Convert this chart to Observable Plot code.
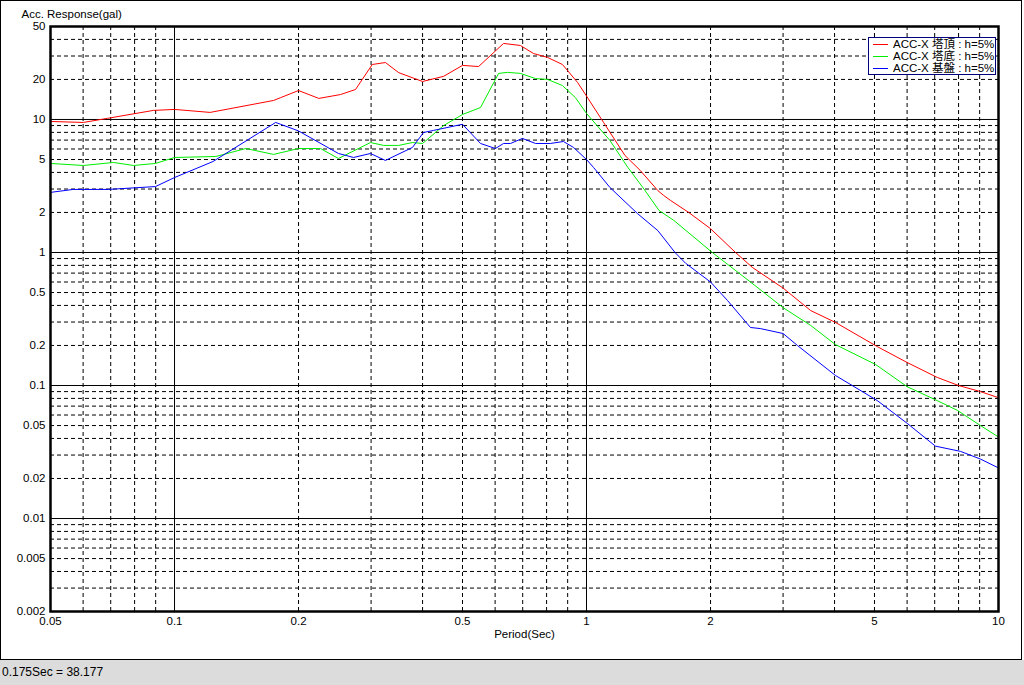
<!DOCTYPE html>
<html>
<head>
<meta charset="utf-8">
<script src="https://cdn.jsdelivr.net/npm/d3@7"></script>
<script src="https://cdn.jsdelivr.net/npm/@observablehq/plot@0.6"></script>
<style>
  html, body { margin: 0; padding: 0; background: #fff; }
  body { width: 1024px; height: 685px; overflow: hidden; font-family: "Liberation Sans", "Noto Sans CJK JP", sans-serif; }
  #wrap { position: relative; width: 1024px; height: 660px; }
  #border { position: absolute; left: 0; top: 0; width: 1020px; height: 658px; border: 1px solid #000; pointer-events: none; }
  #chart { position: absolute; left: 0; top: 0; }
  #legend { position: absolute; left: 868px; top: 37px; width: 126px; height: 36px; border: 1px solid #000080; background: #fff; font-size: 11.5px; line-height: 11px; }
  #legend .row { position: relative; height: 11px; margin-top: 1px; white-space: nowrap; }
  #legend .sw { position: absolute; left: 4px; top: 5px; width: 15px; height: 1px; }
  #legend .lb { position: absolute; left: 24px; top: 0; }
  #status { position: absolute; left: 0; top: 660px; width: 1024px; height: 25px; background: #dcdcdc; font-size: 12px; line-height: 25px; padding-left: 2px; box-sizing: border-box; }
</style>
</head>
<body>
<div id="wrap">
  <div id="chart"></div>
  <div id="legend"></div>
  <div id="border"></div>
</div>
<div id="status"></div>
<script>
// ---- data ----
const seriesNames = ["ACC-X 塔頂 : h=5%", "ACC-X 塔底 : h=5%", "ACC-X 基盤 : h=5%"];

const topPeriod = [0.05, 0.0601, 0.0688, 0.0889, 0.1, 0.122, 0.174, 0.181, 0.2, 0.224, 0.253, 0.275, 0.302, 0.325, 0.35, 0.4, 0.45, 0.5, 0.547, 0.629, 0.691, 0.744, 0.804, 0.874, 0.951, 1.0, 1.10, 1.24, 1.35, 1.49, 1.54, 1.60, 1.77, 2.0, 2.30, 2.53, 3.0, 3.5, 4.02, 5.08, 6.0, 7.1, 8.0, 9.04, 10];
const topAcc = [9.66, 9.5, 10.2, 11.7, 11.9, 11.3, 13.9, 14.6, 16.5, 14.4, 15.4, 16.8, 25.9, 26.8, 22.5, 19.3, 21.1, 25.5, 25.0, 37.3, 36.0, 31.3, 29.3, 25.9, 19.0, 15.0, 9.5, 5.36, 4.14, 2.92, 2.68, 2.46, 2.0, 1.51, 1.0, 0.77, 0.54, 0.366, 0.298, 0.196, 0.149, 0.115, 0.1, 0.09, 0.081];

const basePeriod = [0.05, 0.0601, 0.0711, 0.0795, 0.0899, 0.1, 0.126, 0.149, 0.174, 0.2, 0.226, 0.25, 0.299, 0.322, 0.35, 0.378, 0.4, 0.45, 0.5, 0.553, 0.612, 0.643, 0.691, 0.752, 0.804, 0.874, 0.94, 1.0, 1.14, 1.26, 1.37, 1.50, 1.63, 2.02, 2.5, 3.0, 3.5, 4.02, 5.03, 6.0, 7.1, 7.95, 9.04, 10];
const baseAcc = [4.67, 4.51, 4.75, 4.51, 4.67, 5.18, 5.27, 6.05, 5.46, 6.05, 6.05, 5.09, 6.71, 6.38, 6.38, 6.71, 6.6, 9.0, 10.9, 12.3, 22.2, 22.6, 22.2, 20.3, 20.0, 18.0, 14.6, 11.1, 6.95, 4.36, 3.08, 2.07, 1.74, 1.0, 0.6, 0.385, 0.283, 0.203, 0.144, 0.098, 0.077, 0.065, 0.050, 0.041];

const groundPeriod = [0.05, 0.0568, 0.0691, 0.0899, 0.1, 0.124, 0.176, 0.181, 0.2, 0.25, 0.272, 0.299, 0.325, 0.378, 0.402, 0.425, 0.5, 0.553, 0.601, 0.629, 0.654, 0.699, 0.752, 0.817, 0.879, 0.93, 1.0, 1.04, 1.14, 1.33, 1.49, 1.64, 1.74, 2.0, 2.2, 2.5, 2.64, 3.0, 3.25, 4.02, 5.08, 6.0, 7.03, 8.08, 9.04, 10];
const groundAcc = [2.83, 2.98, 2.98, 3.13, 3.66, 4.83, 9.5, 9.2, 8.2, 5.55, 5.18, 5.55, 4.92, 6.16, 7.98, 8.27, 9.2, 6.6, 6.05, 6.6, 6.6, 7.2, 6.6, 6.6, 6.83, 6.16, 5.0, 4.36, 3.08, 1.96, 1.46, 1.0, 0.83, 0.6, 0.435, 0.273, 0.268, 0.246, 0.2, 0.119, 0.077, 0.052, 0.035, 0.032, 0.028, 0.024];

const xTickLabels = ["0.05", "0.1", "0.2", "0.5", "1", "2", "5", "10"];
const yTickLabels = ["50", "20", "10", "5", "2", "1", "0.5", "0.2", "0.1", "0.05", "0.02", "0.01", "0.005", "0.002"];
const xMajorGrid = [0.1, 1];
const yMajorGrid = [0.01, 0.1, 1, 10];
const xMinorGrid = [0.06, 0.07, 0.08, 0.09, 0.2, 0.3, 0.4, 0.5, 0.6, 0.7, 0.8, 0.9, 2, 3, 4, 5, 6, 7, 8, 9];
const yMinorGrid = [0.003, 0.004, 0.005, 0.006, 0.007, 0.008, 0.009, 0.02, 0.03, 0.04, 0.05, 0.06, 0.07, 0.08, 0.09, 0.2, 0.3, 0.4, 0.5, 0.6, 0.7, 0.8, 0.9, 2, 3, 4, 5, 6, 7, 8, 9, 20, 30, 40];
const yTitle = "Acc. Response(gal)";
const xTitle = "Period(Sec)";
const statusText = "0.175Sec = 38.177";

// ---- build ----
const seriesColors = ["#ff0000", "#00ee00", "#0000ff"];
const periods = [topPeriod, basePeriod, groundPeriod];
const accs = [topAcc, baseAcc, groundAcc];
const rows = [];
seriesNames.forEach((name, s) => {
  periods[s].forEach((t, i) => rows.push({series: name, T: t, A: accs[s][i]}));
});

const xTicks = xTickLabels.map((s, i) => ({v: Number(s), label: s}));
const yTicks = yTickLabels.map((s, i) => ({v: Number(s), label: s}));

const chart = Plot.plot({
  width: 1024,
  height: 660,
  marginLeft: 50,
  marginRight: 26,
  marginTop: 26,
  marginBottom: 49,
  style: {fontFamily: '"Liberation Sans", "Noto Sans CJK JP", sans-serif', fontSize: "11.5px", color: "#000", background: "transparent"},
  x: {type: "log", domain: [0.05, 10], axis: null},
  y: {type: "log", domain: [0.002, 50], axis: null},
  color: {domain: seriesNames, range: seriesColors},
  marks: [
    Plot.ruleX(xMinorGrid, {stroke: "#000", strokeWidth: 1, strokeDasharray: "4,3"}),
    Plot.ruleY(yMinorGrid, {stroke: "#000", strokeWidth: 1, strokeDasharray: "4,3"}),
    Plot.ruleX(xMajorGrid, {stroke: "#000", strokeWidth: 1}),
    Plot.ruleY(yMajorGrid, {stroke: "#000", strokeWidth: 1}),
    Plot.line(rows, {x: "T", y: "A", z: "series", stroke: "series", strokeWidth: 1, curve: "linear"}),
    Plot.frame({stroke: "#000", strokeWidth: 2.5}),
    Plot.text(xTicks, {x: "v", text: "label", frameAnchor: "bottom", dy: 10, textAnchor: "middle", lineAnchor: "middle", fill: "#000"}),
    Plot.text(yTicks, {y: "v", text: "label", frameAnchor: "left", dx: -5, textAnchor: "end", lineAnchor: "middle", fill: "#000"}),
    Plot.text([yTitle], {text: d => d, frameAnchor: "top-left", dx: -29, dy: -12, textAnchor: "start", lineAnchor: "middle", fill: "#000"}),
    Plot.text([xTitle], {text: d => d, frameAnchor: "bottom", dy: 23, textAnchor: "middle", lineAnchor: "middle", fill: "#000"})
  ]
});
document.getElementById("chart").appendChild(chart);

// legend
const legend = document.getElementById("legend");
seriesNames.forEach((name, i) => {
  const row = document.createElement("div");
  row.className = "row";
  const sw = document.createElement("div");
  sw.className = "sw";
  sw.style.background = seriesColors[i];
  const lb = document.createElement("div");
  lb.className = "lb";
  lb.textContent = name;
  row.appendChild(sw);
  row.appendChild(lb);
  legend.appendChild(row);
});
document.getElementById("status").textContent = statusText;
</script>
</body>
</html>
